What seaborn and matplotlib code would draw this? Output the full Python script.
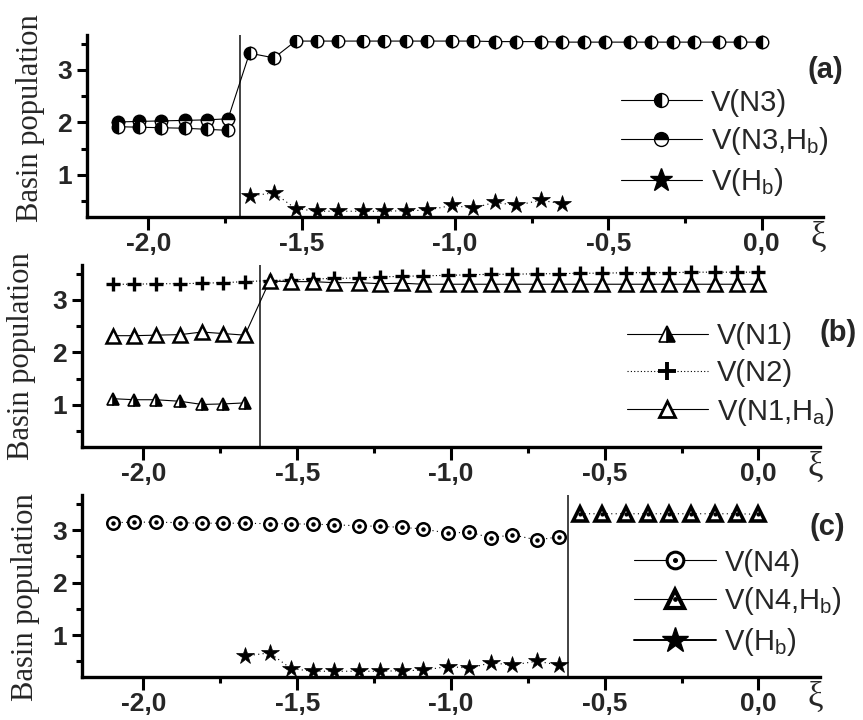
import numpy as np
import pandas as pd
import seaborn as sns
import matplotlib
matplotlib.use("Agg")
import matplotlib.pyplot as plt
from matplotlib.lines import Line2D
from matplotlib.legend_handler import HandlerTuple
from matplotlib.ticker import FixedLocator

# ---------------- data ----------------
xi = [-2.10, -2.03, -1.96, -1.88, -1.81, -1.74, -1.67, -1.59, -1.52, -1.45,
      -1.38, -1.30, -1.23, -1.16, -1.09, -1.01, -0.94, -0.87, -0.80, -0.72,
      -0.65, -0.58, -0.51, -0.43, -0.36, -0.29, -0.22, -0.14, -0.07, 0.00]

# panel (a)
a_N3 = [1.92, 1.91, 1.90, 1.89, 1.87, 1.85, 3.32, 3.23, 3.55, 3.55,
        3.55, 3.55, 3.55, 3.55, 3.55, 3.55, 3.55, 3.54, 3.54, 3.54,
        3.53, 3.53, 3.53, 3.53, 3.53, 3.53, 3.53, 3.53, 3.53, 3.53]
a_N3Hb = [2.01, 2.02, 2.03, 2.04, 2.05, 2.07]
a_Hb = [0.60, 0.66, 0.36, 0.31, 0.31, 0.31, 0.31, 0.32, 0.33, 0.42,
        0.37, 0.48, 0.42, 0.52, 0.45]
a_Hb_start = 6
a_split = -1.70

# panel (b)
b_N1 = [1.12, 1.10, 1.10, 1.07, 1.01, 1.02, 1.04]
b_N2 = [3.30, 3.30, 3.31, 3.31, 3.32, 3.33, 3.35, 3.37, 3.38, 3.40,
        3.41, 3.42, 3.44, 3.45, 3.46, 3.47, 3.48, 3.49, 3.49, 3.50,
        3.50, 3.51, 3.51, 3.52, 3.52, 3.52, 3.53, 3.53, 3.53, 3.53]
b_N1Ha = [2.32, 2.32, 2.33, 2.34, 2.39, 2.36, 2.33, 3.36, 3.35, 3.35,
          3.33, 3.33, 3.31, 3.32, 3.30, 3.30, 3.30, 3.30, 3.30, 3.30,
          3.30, 3.30, 3.30, 3.30, 3.30, 3.30, 3.30, 3.30, 3.30, 3.30]
b_split = -1.62

# panel (c)
c_N4 = [3.14, 3.15, 3.15, 3.14, 3.13, 3.13, 3.13, 3.12, 3.12, 3.11,
        3.10, 3.08, 3.07, 3.05, 3.02, 2.94, 2.96, 2.85, 2.91, 2.81, 2.87]
c_N4Hb = [3.31, 3.31, 3.31, 3.31, 3.31, 3.31, 3.31, 3.31, 3.30]
c_Hb = [0.60, 0.66, 0.36, 0.31, 0.31, 0.31, 0.31, 0.32, 0.33, 0.40,
        0.37, 0.47, 0.43, 0.50, 0.43]
c_Hb_start = 6
c_split = -0.62

x_ticks = [-2.0, -1.5, -1.0, -0.5, 0.0]
x_ticklabels = ["-2,0", "-1,5", "-1,0", "-0,5", "0,0"]
y_ticks = [1, 2, 3]
y_ticklabels = ["1", "2", "3"]

# ---------------- style ----------------
sns.set_style("ticks")
plt.rcParams["font.family"] = ["Liberation Sans", "DejaVu Sans"]
plt.rcParams["mathtext.fontset"] = "custom"
plt.rcParams["mathtext.rm"] = "Liberation Sans"
plt.rcParams["mathtext.it"] = "Liberation Sans:italic"

fig = plt.figure(figsize=(8.63, 7.2), dpi=100)
pos = {
    "a": [0.1008, 0.6986, 0.8528, 0.2531],
    "b": [0.0950, 0.3792, 0.8551, 0.2530],
    "c": [0.0950, 0.0597, 0.8551, 0.2530],
}
LW = 0.8
K = "black"
TICKFS = 19


def series(ax, x, y, **kw):
    d = pd.DataFrame({"x": x, "y": y})
    sns.lineplot(data=d, x="x", y="y", ax=ax, color=K, estimator=None,
                 sort=False, legend=False, lw=LW, **kw)


def style_axes(ax, label_x, label_y):
    ax.set_xlim(-2.2, 0.2)
    ax.set_ylim(0.2, 3.67)
    sns.despine(ax=ax)
    for s in ("left", "bottom"):
        ax.spines[s].set_linewidth(2.4)
        ax.spines[s].set_color(K)
    ax.set_xticks(x_ticks, labels=x_ticklabels, fontsize=TICKFS, fontweight="bold")
    ax.set_yticks(y_ticks, labels=y_ticklabels, fontsize=TICKFS, fontweight="bold")
    ax.xaxis.set_minor_locator(FixedLocator([-1.75, -1.25, -0.75, -0.25]))
    ax.yaxis.set_minor_locator(FixedLocator([0.5, 1.5, 2.5, 3.5]))
    ax.tick_params(axis="x", which="major", length=9, width=2.2, color=K, pad=2)
    ax.tick_params(axis="y", which="major", length=7, width=2.2, color=K, pad=4)
    ax.tick_params(which="minor", length=4, width=2.2, color=K)
    ax.set_xlabel("")
    ax.set_ylabel("Basin population", family=["Liberation Serif"], fontsize=22)
    ax.yaxis.set_label_coords(label_x, label_y)
    ax.text(0.994, -0.11, "ξ", transform=ax.transAxes, family=["Liberation Serif"],
            fontsize=25, ha="center", va="center")


def leg_line(**kw):
    base = dict(color=K, lw=LW, markeredgecolor=K)
    base.update(kw)
    return Line2D([], [], **base)


LEG = dict(loc="upper left", frameon=False, fontsize=21, handlelength=2.8,
           handletextpad=0.3, labelspacing=0.3, borderpad=0, borderaxespad=0)

# ---------------- panel (a) ----------------
ax = fig.add_axes(pos["a"])
series(ax, xi[:len(a_N3Hb)], a_N3Hb, marker="o", markersize=9, fillstyle="top",
       markerfacecolor=K, markerfacecoloralt="white", markeredgecolor=K, markeredgewidth=1.0)
ax.plot([xi[len(a_N3Hb) - 1], xi[len(a_N3Hb)]], [a_N3Hb[-1], a_N3[len(a_N3Hb)]],
        color=K, lw=LW, zorder=1)
series(ax, xi[:len(a_N3Hb)], a_N3[:len(a_N3Hb)], marker="o", markersize=9, fillstyle="left",
       markerfacecolor=K, markerfacecoloralt="white", markeredgecolor=K, markeredgewidth=1.0)
series(ax, xi[len(a_N3Hb):], a_N3[len(a_N3Hb):], marker="o", markersize=9, fillstyle="left",
       markerfacecolor=K, markerfacecoloralt="white", markeredgecolor=K, markeredgewidth=1.0)
series(ax, xi[a_Hb_start:a_Hb_start + len(a_Hb)], a_Hb, marker="*", markersize=13,
       markerfacecolor=K, markeredgecolor=K, markeredgewidth=0.5, linestyle=(0, (1, 3)))
ax.axvline(a_split, color="#222222", lw=1.2, zorder=0)
style_axes(ax, -0.057, 0.545)
h = [leg_line(marker="o", markersize=10, fillstyle="left", markerfacecolor=K,
              markerfacecoloralt="white"),
     leg_line(marker="o", markersize=10, fillstyle="top", markerfacecolor=K,
              markerfacecoloralt="white"),
     leg_line(marker="*", markersize=17, markerfacecolor=K)]
lab = ["V(N3)", "V(N3,H$_{\\mathrm{b}}$)", "V(H$_{\\mathrm{b}}$)"]
ax.legend(h, lab, bbox_to_anchor=(0.725, 0.705), **LEG)
ax.text(1.003, 0.808, "(a)", transform=ax.transAxes, fontsize=21, fontweight="bold",
        ha="center", va="center")

# ---------------- panel (b) ----------------
ax = fig.add_axes(pos["b"])
series(ax, xi[:len(b_N1)], b_N1, marker="^", markersize=9, fillstyle="right",
       markerfacecolor=K, markerfacecoloralt="white", markeredgecolor=K, markeredgewidth=1.2)
series(ax, xi, b_N2, marker="+", markersize=10, markeredgecolor=K, markeredgewidth=2.4,
       linestyle=(0, (1, 2)))
series(ax, xi, b_N1Ha, marker="^", markersize=10, markerfacecolor="white",
       markeredgecolor=K, markeredgewidth=1.8)
ax.axvline(b_split, color="#222222", lw=1.2, zorder=0)
style_axes(ax, -0.062, 0.5)
h = [leg_line(marker="^", markersize=11, fillstyle="right", markerfacecolor=K,
              markerfacecoloralt="white", markeredgewidth=1.2),
     leg_line(marker="+", markersize=13, markeredgewidth=2.8, linestyle=(0, (1, 2))),
     leg_line(marker="^", markersize=12, markerfacecolor="white", markeredgewidth=2.0)]
lab = ["V(N1)", "V(N2)", "V(N1,H$_{\\mathrm{a}}$)"]
ax.legend(h, lab, bbox_to_anchor=(0.738, 0.685), **LEG)
ax.text(1.024, 0.628, "(b)", transform=ax.transAxes, fontsize=21, fontweight="bold",
        ha="center", va="center")

# ---------------- panel (c) ----------------
ax = fig.add_axes(pos["c"])
nN4 = len(c_N4)
series(ax, xi[:nN4], c_N4, marker="o", markersize=9, markerfacecolor="white",
       markeredgecolor=K, markeredgewidth=1.8, linestyle=(0, (1, 3)))
ax.plot(xi[:nN4], c_N4, ls="none", marker="o", markersize=2.2, color=K, zorder=5)
series(ax, xi[nN4:], c_N4Hb, marker="^", markersize=10, markerfacecolor="white",
       markeredgecolor=K, markeredgewidth=2.6, linestyle=(0, (1, 3)))
ax.plot(xi[nN4:], c_N4Hb, ls="none", marker="o", markersize=2.0, color=K, zorder=5)
series(ax, xi[c_Hb_start:c_Hb_start + len(c_Hb)], c_Hb, marker="*", markersize=13,
       markerfacecolor=K, markeredgecolor=K, markeredgewidth=0.5, linestyle=(0, (1, 3)))
ax.axvline(c_split, color="#222222", lw=1.2, zorder=0)
style_axes(ax, -0.057, 0.44)
h = [(leg_line(marker="o", markersize=12, markerfacecolor="white", markeredgewidth=2.2),
      leg_line(marker="o", markersize=2.6, lw=0)),
     (leg_line(marker="^", markersize=13, markerfacecolor="white", markeredgewidth=3.0),
      leg_line(marker="o", markersize=2.4, lw=0)),
     leg_line(marker="*", markersize=19, markerfacecolor=K, lw=1.4)]
lab = ["V(N4)", "V(N4,H$_{\\mathrm{b}}$)", "V(H$_{\\mathrm{b}}$)"]
ax.legend(h, lab, bbox_to_anchor=(0.748, 0.705),
          handler_map={tuple: HandlerTuple(ndivide=1, pad=0)}, **LEG)
ax.text(1.01, 0.824, "(c)", transform=ax.transAxes, fontsize=21, fontweight="bold",
        ha="center", va="center")

fig.savefig("out.png", dpi=100)
